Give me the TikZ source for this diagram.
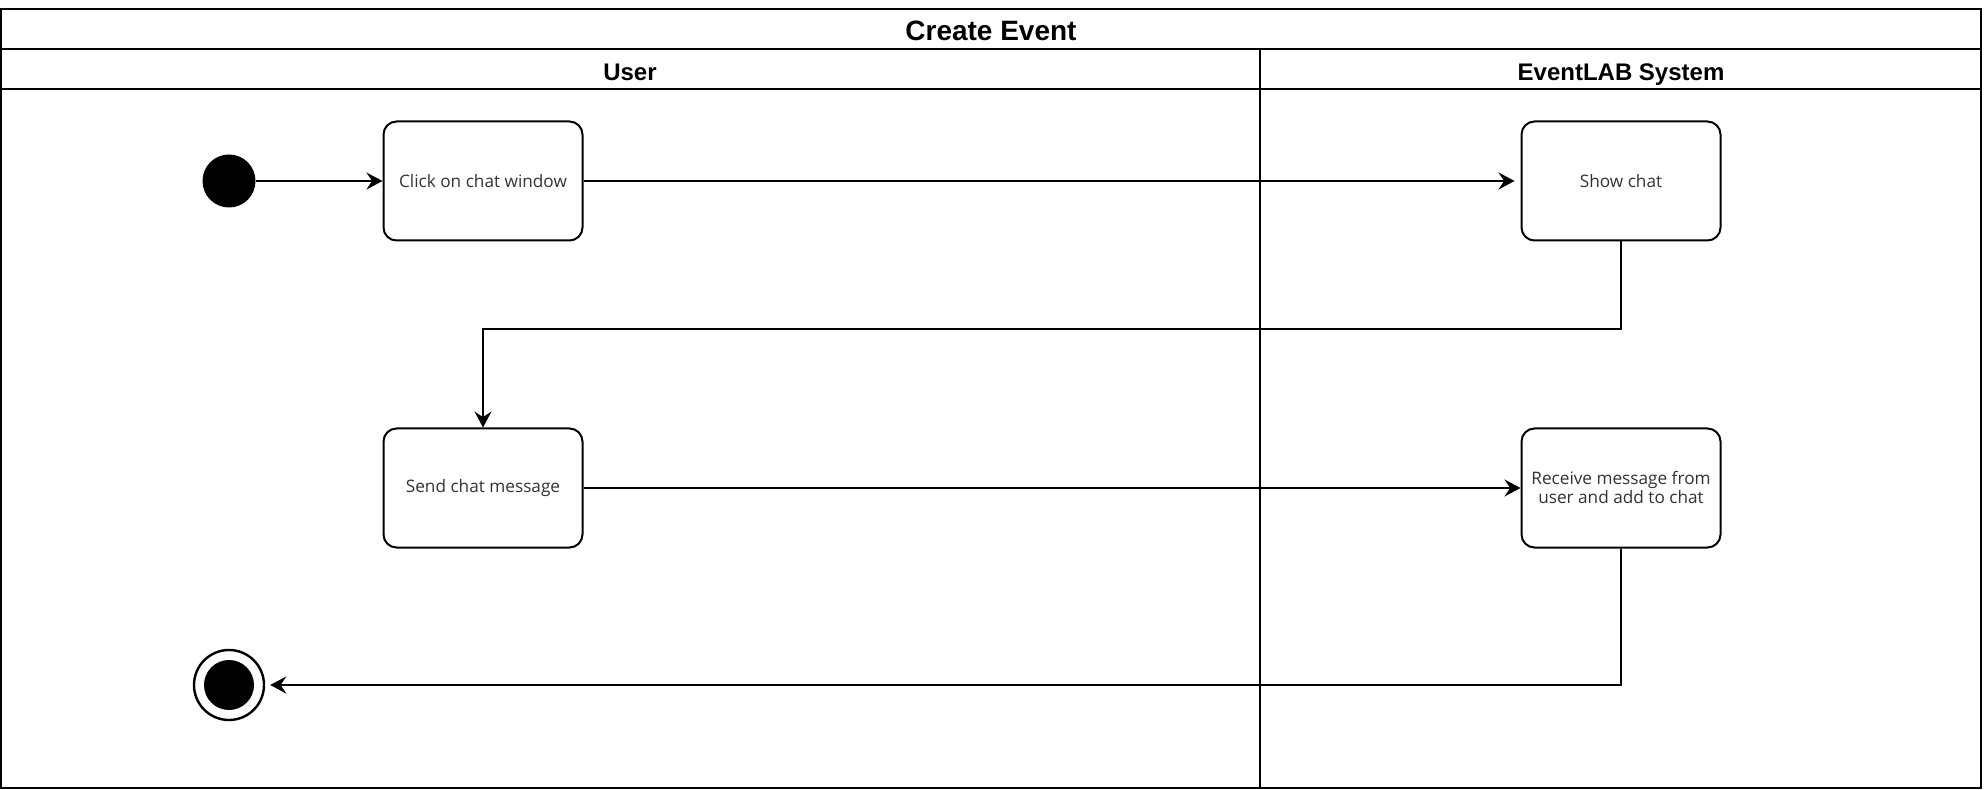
\documentclass[tikz,border=0pt]{standalone}
\usepackage{fontspec}
\setmainfont{Liberation Sans}
\newfontfamily\boxfont{Open Sans}
\usetikzlibrary{arrows.meta}
\definecolor{txtgray}{HTML}{333333}
\tikzset{
  frame/.style={draw=black, line width=1pt},
  actbox/.style={draw=black, line width=1pt, rounded corners=6.5pt, minimum width=99.5pt, minimum height=59.5pt, align=center, font=\boxfont\fontsize{8.6}{9.5}\selectfont, text=txtgray, inner sep=1pt},
  lanehead/.style={font=\bfseries\fontsize{12}{14}\selectfont, text height=9pt, text depth=2.5pt},
  arr/.style={draw=black, line width=1pt, -{Stealth[length=8pt, width=8.5pt, inset=2.8pt]}},
}
\begin{document}
\begin{tikzpicture}[x=0.5pt,y=-0.5pt]
\useasboundingbox (0,0) rectangle (1984,790);
% pool frame
\draw[frame] (1,9) rectangle (1981,788);
\draw[frame] (1,49) -- (1981,49);
\draw[frame] (1,89) -- (1981,89);
\draw[frame] (1260,49) -- (1260,788);
\node[font=\bfseries\fontsize{14}{16}\selectfont, text height=10pt, text depth=3pt] (title) at (991,34) {Create Event};
\node[lanehead] (laneUser) at (630,74) {User};
\node[lanehead] (laneSys) at (1621,74) {EventLAB System};
% nodes
\node[circle, fill=black, minimum size=26.5pt, inner sep=0pt] (init) at (229,181) {};
\node[actbox] (click) at (483,181) {Click on chat window};
\node[actbox] (show) at (1621,181) {Show chat};
\node[actbox] (send) at (483,488) {Send chat message};
\node[actbox] (recv) at (1621,488) {Receive message from\\user and add to chat};
\node[circle, draw=black, line width=1.2pt, minimum size=35pt, inner sep=0pt] (final) at (229,685) {};
\node[circle, fill=black, minimum size=25pt, inner sep=0pt] (finalin) at (229,685) {};
\coordinate (bendA) at (0,329);
% connectors
\draw[arr] (init) -- (click);
\draw[arr, shorten >=3pt] (click) -- (show);
\draw[arr] (show.south) -- (show.south |- bendA) -| (send.north);
\draw[arr] (send) -- (recv);
\draw[arr, shorten >=2.5pt] (recv.south) |- (final.east);
\end{tikzpicture}
\end{document}
